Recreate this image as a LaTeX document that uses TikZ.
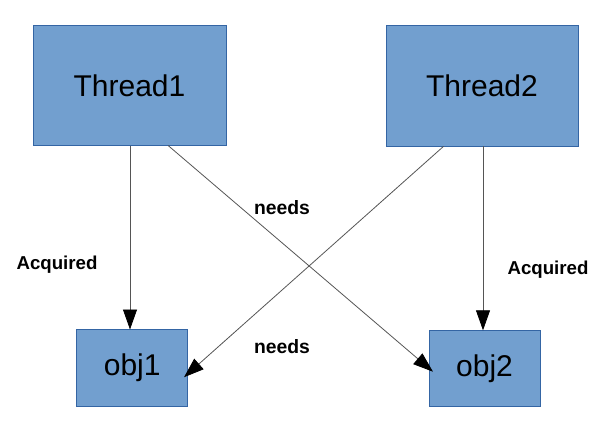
\documentclass[tikz,border=0pt]{standalone}
\usepackage{fontspec}
\setmainfont{Liberation Sans}
\usetikzlibrary{arrows.meta,calc}
\definecolor{boxfill}{HTML}{729FCF}
\definecolor{boxline}{HTML}{3465A4}
\definecolor{conn}{HTML}{555555}
\tikzset{
  box/.style={draw=boxline, fill=boxfill, line width=0.75pt, inner sep=0pt, outer sep=0pt,
              font=\fontsize{22.5}{26}\selectfont},
  conn/.style={draw=conn, line width=0.6pt, -{Triangle[length=15pt,width=10.5pt,fill=black,color=black]}},
  lab/.style={font=\bfseries\fontsize{14}{16}\selectfont, inner sep=0pt}
}
\begin{document}
\begin{tikzpicture}[x=0.75pt,y=-0.75pt]
\useasboundingbox (0,0) rectangle (606,426);
\fill[white] (0,0) rectangle (606,426);
\node[box, minimum width=144.75pt, minimum height=90pt] (t1) at (129.5,85.5) {Thread1};
\node[box, minimum width=144pt, minimum height=90.75pt] (t2) at (482,85.8) {Thread2};
\node[box, minimum width=83.25pt, minimum height=57.75pt] (o1) at (132.2,368) {obj1};
\node[box, minimum width=83.25pt, minimum height=57pt] (o2) at (484.5,368.3) {obj2};
\node[lab] (a1) at (57,265) {Acquired};
\node[lab] (a2) at (548,270) {Acquired};
\node[lab, font=\bfseries\fontsize{14.5}{16}\selectfont] (n1) at (282,208) {needs};
\node[lab, font=\bfseries\fontsize{14.5}{16}\selectfont] (n2) at (282,347) {needs};
\draw[conn] (t1.south -| 130,0) -- (o1.north -| 130,0);
\draw[conn] (t2.south -| 483,0) -- (o2.north -| 483,0);
\draw[conn] ($(t1.south west)!0.70!(t1.south east)$) -- ($(o2.north west)!0.545!(o2.south west)+(4,0)$);
\draw[conn] ($(t2.south west)!0.30!(t2.south east)$) -- ($(o1.north east)!0.62!(o1.south east)+(-3.7,0)$);
\end{tikzpicture}
\end{document}
